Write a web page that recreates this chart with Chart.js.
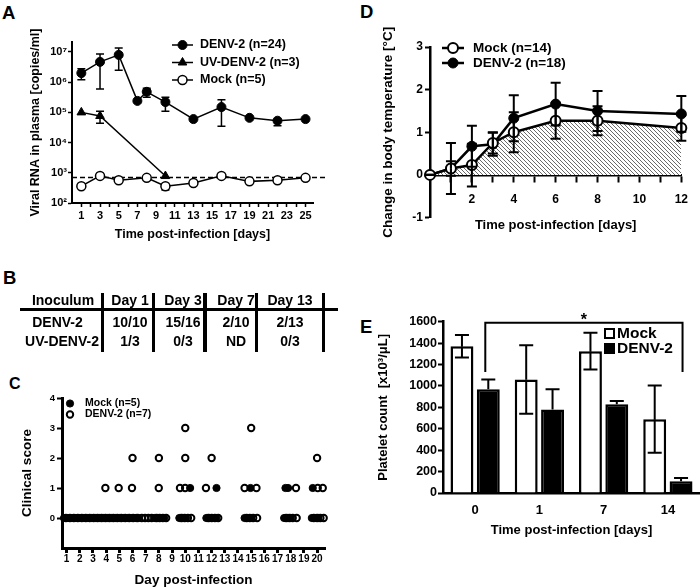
<!DOCTYPE html>
<html>
<head>
<meta charset="utf-8">
<script src="https://cdn.jsdelivr.net/npm/chart.js@4.4.1/dist/chart.umd.min.js"></script>
<style>
  body { margin: 0; background: #fff; }
  #wrap { position: relative; width: 700px; height: 588px; overflow: hidden;
          font-family: "Liberation Sans", Arial, sans-serif; font-weight: bold; color: #000; }
  #wrap canvas { position: absolute; left: 0; top: 0; }
  .panel { position: absolute; line-height: 1; }
  .cell { position: absolute; font-size: 14px; line-height: 1; white-space: nowrap; transform: translate(-50%, -50%); }
  .rule { position: absolute; background: #000; }
</style>
</head>
<body>
<div id="wrap">
  <div class="panel" style="left:2px;top:4px;font-size:18.5px">A</div>
  <div class="panel" style="left:3px;top:269px;font-size:18.5px">B</div>
  <div class="panel" style="left:9px;top:376px;font-size:16px">C</div>
  <div class="panel" style="left:360px;top:2.5px;font-size:18.5px">D</div>
  <div class="panel" style="left:360px;top:317.5px;font-size:18.5px">E</div>
</div>
<script>
// ---------- A: viral RNA in plasma ----------
const aDenvDays = [1, 3, 5, 7, 8, 10, 13, 16, 19, 22, 25];
const aDenv   = [2.0e6, 4.7e6, 8.0e6, 2.4e5, 4.8e5, 2.2e5, 6.0e4, 1.5e5, 6.6e4, 5.3e4, 6.0e4];
const aDenvHi = [2.8e6, 8.6e6, 1.35e7, null, 6.3e5, 3.2e5, null, 2.6e5, null, null, null];
const aDenvLo = [1.2e6, 5.9e5, 2.5e6, null, 3.2e5, 1.1e5, null, 3.5e4, null, 3.6e4, null];
const aUvDays = [1, 3, 10];
const aUv   = [1.0e5, 7.6e4, 7.8e2];
const aUvHi = [null, 1.1e5, null];
const aUvLo = [null, 4.4e4, null];
const aMockDays = [1, 3, 5, 8, 10, 13, 16, 19, 22, 25];
const aMock   = [360, 790, 570, 680, 360, 460, 790, 520, 570, 680];
const aMockLo = [null, null, null, null, 270, null, null, null, null, null];
const aLimit = 700;
const aYTicks = [1e2, 1e3, 1e4, 1e5, 1e6, 1e7];
const aXLabels = [1, 3, 5, 7, 9, 11, 13, 15, 17, 19, 21, 23, 25];

// ---------- B: table ----------
const bHeader = ["Inoculum", "Day 1", "Day 3", "Day 7", "Day 13"];
const bRows = [
  ["DENV-2", "10/10", "15/16", "2/10", "2/13"],
  ["UV-DENV-2", "1/3", "0/3", "ND", "0/3"],
];

// ---------- C: clinical score (x = jittered day) ----------
const cMock0 = [0.8, 1.1, 1.4, 1.7, 2.0, 2.3, 2.6, 2.9, 3.2, 3.5, 3.8, 4.1, 4.4, 4.7, 5.0, 5.3, 5.6, 5.9, 6.2, 6.45,
                7.65, 7.9, 8.15, 8.4, 9.55, 9.8, 10.05, 11.6, 11.85, 12.1, 12.35, 14.5, 14.75, 15.0,
                17.5, 17.75, 18.0, 19.6, 19.85, 20.1];
const cMock1 = [10.37, 12.37, 14.95, 17.6, 17.8, 19.67];
const cDenv0 = [0.95, 1.25, 1.55, 1.85, 2.15, 2.45, 2.75, 3.05, 3.35, 3.65, 3.95, 4.25, 4.55, 4.85, 5.15, 5.45, 5.75,
                6.05, 6.35, 6.7, 6.95, 7.2, 7.45, 7.8, 8.05, 8.3, 8.55, 9.7, 9.95, 10.2, 10.45, 11.75, 12.0, 12.25,
                12.5, 14.65, 14.9, 15.15, 15.45, 17.65, 17.9, 18.15, 18.45, 19.75, 20.0, 20.25, 20.5];
const cDenv1 = [3.94, 4.95, 5.96, 7.99, 9.6, 9.99, 11.57, 14.5, 15.4, 18.4, 20.05, 20.43];
const cDenv2 = [6, 8, 10, 12, 20];
const cDenv3 = [10, 15];
const cDays = [1, 2, 3, 4, 5, 6, 7, 8, 9, 10, 11, 12, 13, 14, 15, 16, 17, 18, 19, 20];
const cScores = [0, 1, 2, 3, 4];

// ---------- D: body temperature ----------
const dDays = [0, 1, 2, 3, 4, 6, 8, 12];
const dMock    = [0, 0.15, 0.23, 0.75, 1.0, 1.27, 1.27, 1.1];
const dMockErr = [0, 0.17, 0.5, 0.25, 0.47, 0.42, 0.34, 0.3];
const dDenv    = [0, 0.15, 0.67, 0.72, 1.33, 1.66, 1.5, 1.43];
const dDenvErr = [0, 0.6, 0.48, 0.27, 0.54, 0.5, 0.47, 0.42];
const dTicks = [1, 2, 3, 4, 5, 6, 7, 8, 9, 10, 11, 12];
const dXLabels = [2, 4, 6, 8, 10, 12];

// ---------- E: platelet count ----------
const eDays = ["0", "1", "7", "14"];
const eMock    = [1370, 1060, 1325, 690];
const eMockErr = [105, 320, 172, 315];
const eDenv    = [970, 780, 830, 110];
const eDenvErr = [90, 190, 30, 30];
const eBracket = { from: 0, to: 3, top: 1590, leg: 1130, text: "*" };

const FONT = '"Liberation Sans", Arial, sans-serif';
Chart.defaults.font.family = FONT;
Chart.defaults.font.weight = "bold";
Chart.defaults.color = "#000";
Chart.defaults.animation = false;
Chart.defaults.plugins.legend.display = false;
Chart.defaults.plugins.tooltip.enabled = false;

const wrap = document.getElementById("wrap");
const sup = { 2: "²", 3: "³", 4: "⁴", 5: "⁵", 6: "⁶", 7: "⁷" };
const pts = (xs, ys) => xs.map((x, i) => ({ x, y: ys[i] }));
const row = (xs, y) => xs.map(x => ({ x, y }));

function newCanvas() {
  const c = document.createElement("canvas");
  c.width = 700; c.height = 588;
  wrap.appendChild(c);
  return c;
}

// error bars drawn from each dataset's errHi / errLo (absolute values)
function errorBars(after, width, cap) {
  const draw = chart => {
    const ctx = chart.ctx, ys = chart.scales.y;
    chart.data.datasets.forEach((ds, di) => {
      const meta = chart.getDatasetMeta(di);
      meta.data.forEach((el, i) => {
        [ds.errHi && ds.errHi[i], ds.errLo && ds.errLo[i]].forEach(v => {
          if (v == null) return;
          const yy = ys.getPixelForValue(v);
          ctx.save();
          ctx.strokeStyle = "#000"; ctx.lineWidth = width;
          ctx.beginPath();
          ctx.moveTo(el.x, el.y); ctx.lineTo(el.x, yy);
          ctx.moveTo(el.x - cap / 2, yy); ctx.lineTo(el.x + cap / 2, yy);
          ctx.stroke();
          ctx.restore();
        });
      });
    });
  };
  return after ? { id: "errA", afterDatasetsDraw: draw } : { id: "errB", beforeDatasetsDraw: draw };
}

function legendRow(ctx, ds, x0, x1, y, tx, size) {
  ctx.save();
  if (x1 > x0) {
    ctx.strokeStyle = "#000"; ctx.lineWidth = ds.borderWidth;
    ctx.beginPath(); ctx.moveTo(x0, y); ctx.lineTo(x1, y); ctx.stroke();
  }
  ctx.fillStyle = ds.pointBackgroundColor; ctx.strokeStyle = "#000"; ctx.lineWidth = ds.pointBorderWidth;
  Chart.helpers.drawPoint(ctx, { pointStyle: ds.pointStyle, radius: ds.pointRadius, borderWidth: ds.pointBorderWidth, rotation: 0 }, (x0 + x1) / 2, y);
  ctx.fillStyle = "#000"; ctx.font = `bold ${size}px ${FONT}`;
  ctx.textAlign = "left"; ctx.textBaseline = "middle";
  ctx.fillText(ds.label, tx, y);
  ctx.restore();
}

const axisStyle = (w, tl, tw) => ({
  grid: { drawOnChartArea: false, tickLength: tl, tickWidth: tw, tickColor: "#000" },
  border: { color: "#000", width: w },
});

/* ---------- A ---------- */
new Chart(newCanvas(), {
  type: "line",
  data: {
    datasets: [
      { label: "DENV-2 (n=24)", data: pts(aDenvDays, aDenv), errHi: aDenvHi, errLo: aDenvLo,
        borderColor: "#000", borderWidth: 1.5, pointStyle: "circle", pointRadius: 4.5,
        pointBackgroundColor: "#000", pointBorderColor: "#000", pointBorderWidth: 1, clip: false },
      { label: "UV-DENV-2 (n=3)", data: pts(aUvDays, aUv), errHi: aUvHi, errLo: aUvLo,
        borderColor: "#000", borderWidth: 1.5, pointStyle: "triangle", pointRadius: 5,
        pointBackgroundColor: "#000", pointBorderColor: "#000", pointBorderWidth: 1, clip: false },
      { label: "Mock (n=5)", data: pts(aMockDays, aMock), errLo: aMockLo,
        borderColor: "#000", borderWidth: 1.5, pointStyle: "circle", pointRadius: 4.5,
        pointBackgroundColor: "#fff", pointBorderColor: "#000", pointBorderWidth: 1.5, clip: false },
    ],
  },
  options: {
    responsive: false,
    layout: { padding: { left: 0, top: 42, right: 387, bottom: 346 } },
    scales: {
      x: {
        type: "linear", min: 0, max: 25.8,
        afterFit: s => { s.height = 39; },
        afterBuildTicks: s => { s.ticks = []; for (let d = 1; d <= 25; d++) s.ticks.push({ value: d }); },
        ticks: { autoSkip: false, maxRotation: 0, padding: 2, font: { size: 11 },
                 callback: v => (aXLabels.includes(v) ? String(v) : "") },
        ...axisStyle(2, 4, 1.5),
        title: { display: true, text: "Time post-infection [days]", font: { size: 12.5 }, padding: 0 },
      },
      y: {
        type: "logarithmic", min: 100, max: 2.14e7,
        afterFit: s => { s.width = 72; },
        afterBuildTicks: s => { s.ticks = aYTicks.map(v => ({ value: v })); },
        ticks: { autoSkip: false, padding: 1, font: { size: 11 },
                 callback: v => "10" + sup[Math.round(Math.log10(v))] },
        ...axisStyle(2, 4, 1.5),
        title: { display: true, text: "Viral RNA in plasma [copies/ml]", font: { size: 12.5 }, padding: { top: 28.5, bottom: 0 } },
      },
    },
  },
  plugins: [
    errorBars(false, 1.5, 8),
    {
      id: "limitA",
      beforeDatasetsDraw(chart) {
        const { ctx, chartArea, scales } = chart;
        const y = scales.y.getPixelForValue(aLimit);
        ctx.save();
        ctx.strokeStyle = "#000"; ctx.lineWidth = 1.5; ctx.setLineDash([5, 3]);
        ctx.beginPath(); ctx.moveTo(chartArea.left, y); ctx.lineTo(325, y); ctx.stroke();
        ctx.restore();
      },
      afterDraw(chart) {
        const ds = chart.data.datasets;
        legendRow(chart.ctx, ds[0], 172, 193, 45, 200, 12.5);
        legendRow(chart.ctx, ds[1], 172, 193, 62.5, 200, 12.5);
        legendRow(chart.ctx, ds[2], 172, 193, 80, 200, 12.5);
      },
    },
  ],
});

/* ---------- B (table) ---------- */
const bColX = [63, 130, 183, 236, 290];
const bRowY = [300, 322, 341];
const bFirstX = [63, 57.5, 62];
[bHeader, ...bRows].forEach((r, ri) => {
  r.forEach((t, ci) => {
    const d = document.createElement("div");
    d.className = "cell";
    d.textContent = t;
    d.style.left = (ci === 0 ? bFirstX[ri] : bColX[ci]) + "px";
    d.style.top = bRowY[ri] + "px";
    wrap.appendChild(d);
  });
});
[[20, 307.5, 318, 3.5], [100.5, 293, 3.5, 59], [151.5, 293, 3.5, 59], [203, 293, 3.5, 59],
 [254.5, 293, 3.5, 59], [321.5, 293, 3.5, 59]].forEach(([l, t, w, h]) => {
  const d = document.createElement("div");
  d.className = "rule";
  Object.assign(d.style, { left: l + "px", top: t + "px", width: w + "px", height: h + "px" });
  wrap.appendChild(d);
});

/* ---------- C ---------- */
new Chart(newCanvas(), {
  type: "scatter",
  data: {
    datasets: [
      { label: "Mock (n=5)", data: [...row(cMock0, 0), ...row(cMock1, 1)],
        pointStyle: "circle", pointRadius: 3.6, pointBackgroundColor: "#000", pointBorderColor: "#000",
        pointBorderWidth: 1, clip: false },
      { label: "DENV-2 (n=7)", data: [...row(cDenv0, 0), ...row(cDenv1, 1), ...row(cDenv2, 2), ...row(cDenv3, 3)],
        pointStyle: "circle", pointRadius: 3.2, pointBackgroundColor: "rgba(0,0,0,0)", pointBorderColor: "#000",
        pointBorderWidth: 2, clip: false },
    ],
  },
  options: {
    responsive: false,
    layout: { padding: { left: 0, top: 398, right: 375, bottom: 0 } },
    scales: {
      x: {
        type: "linear", min: 0.65, max: 20.6,
        afterFit: s => { s.height = 40; },
        afterBuildTicks: s => { s.ticks = cDays.map(v => ({ value: v })); },
        ticks: { autoSkip: false, maxRotation: 0, padding: 0, font: { size: 10 } },
        ...axisStyle(3, 5, 3),
        title: { display: true, text: "Day post-infection", font: { size: 13.5 }, padding: 0 },
      },
      y: {
        min: -1, max: 4,
        afterFit: s => { s.width = 62; },
        afterBuildTicks: s => { s.ticks = cScores.map(v => ({ value: v })); },
        ticks: { padding: 2, font: { size: 9.5 } },
        ...axisStyle(3, 5, 2),
        title: { display: true, text: "Clinical score", font: { size: 13.5 }, padding: { top: 18.9, bottom: 0 } },
      },
    },
  },
  plugins: [{
    id: "legendC",
    afterDraw(chart) {
      const ds = chart.data.datasets;
      legendRow(chart.ctx, ds[0], 70, 70, 403.5, 85, 10.5);
      legendRow(chart.ctx, ds[1], 70, 70, 414.5, 85, 10.5);
    },
  }],
});

/* ---------- D ---------- */
const tile = document.createElement("canvas");
tile.width = 4; tile.height = 4;
const tc = tile.getContext("2d");
tc.fillStyle = "#fff"; tc.fillRect(0, 0, 4, 4);
tc.strokeStyle = "#6a6a6a"; tc.lineWidth = 1;
tc.beginPath(); tc.moveTo(0, 0); tc.lineTo(4, 4); tc.stroke();
const hatch = tc.createPattern(tile, "repeat");

new Chart(newCanvas(), {
  type: "line",
  data: {
    datasets: [
      { label: "Mock (n=14)", data: pts(dDays, dMock),
        errHi: dMock.map((v, i) => v + dMockErr[i]), errLo: dMock.map((v, i) => v - dMockErr[i]),
        fill: "origin", backgroundColor: hatch,
        borderColor: "#000", borderWidth: 2.5, pointStyle: "circle", pointRadius: 5,
        pointBackgroundColor: "#fff", pointBorderColor: "#000", pointBorderWidth: 2, clip: false },
      { label: "DENV-2 (n=18)", data: pts(dDays, dDenv),
        errHi: dDenv.map((v, i) => v + dDenvErr[i]), errLo: dDenv.map((v, i) => v - dDenvErr[i]),
        fill: false,
        borderColor: "#000", borderWidth: 2.5, pointStyle: "circle", pointRadius: 5,
        pointBackgroundColor: "#000", pointBorderColor: "#000", pointBorderWidth: 1, clip: false },
    ],
  },
  options: {
    responsive: false,
    layout: { padding: { left: 360, top: 47, right: 13, bottom: 370.5 } },
    plugins: { filler: { drawTime: "beforeDatasetsDraw" } },
    scales: {
      x: {
        type: "linear", min: 0, max: 12, position: { y: 0 },
        afterFit: s => { s.height = 58; },
        afterBuildTicks: s => { s.ticks = dTicks.map(v => ({ value: v })); },
        ticks: { autoSkip: false, maxRotation: 0, padding: 12, font: { size: 12 },
                 callback: v => (dXLabels.includes(v) ? String(v) : "") },
        ...axisStyle(2.5, 6, 2),
        title: { display: true, text: "Time post-infection [days]", font: { size: 13 }, padding: 0 },
      },
      y: {
        min: -1, max: 3,
        afterFit: s => { s.width = 70; },
        ticks: { stepSize: 1, padding: 2, font: { size: 12 } },
        ...axisStyle(2.5, 5, 2),
        title: { display: true, text: "Change in body temperature [°C]", font: { size: 13.5 }, padding: { top: 20, bottom: 0 } },
      },
    },
  },
  plugins: [
    errorBars(true, 2, 10),
    {
      id: "legendD",
      afterDraw(chart) {
        const ds = chart.data.datasets;
        legendRow(chart.ctx, ds[0], 442, 464, 48, 473, 13.5);
        legendRow(chart.ctx, ds[1], 442, 464, 63, 473, 13.5);
      },
    },
  ],
});

/* ---------- E ---------- */
new Chart(newCanvas(), {
  type: "bar",
  data: {
    labels: eDays,
    datasets: [
      { label: "Mock", data: eMock,
        errHi: eMock.map((v, i) => v + eMockErr[i]), errLo: eMock.map((v, i) => v - eMockErr[i]),
        backgroundColor: "#fff", borderColor: "#000", borderWidth: 2.5,
        barPercentage: 0.87, categoryPercentage: 0.82 },
      { label: "DENV-2", data: eDenv,
        errHi: eDenv.map((v, i) => v + eDenvErr[i]),
        backgroundColor: "#000", borderColor: "#000", borderWidth: 2.5,
        barPercentage: 0.87, categoryPercentage: 0.82 },
    ],
  },
  options: {
    responsive: false,
    layout: { padding: { left: 360, top: 321.7, right: 0, bottom: 50 } },
    scales: {
      x: {
        afterFit: s => { s.height = 45; },
        grid: { display: false, drawTicks: false },
        border: { color: "#000", width: 2.5 },
        ticks: { padding: 10, font: { size: 13 } },
        title: { display: true, text: "Time post-infection [days]", font: { size: 13 }, padding: 0 },
      },
      y: {
        min: 0, max: 1600,
        afterFit: s => { s.width = 83; },
        ticks: { stepSize: 200, padding: 1, font: { size: 12.5 }, callback: v => String(v) },
        ...axisStyle(2.5, 5, 2),
        title: { display: true, text: "Platelet count  [x10³/μL]", font: { size: 13 }, padding: { top: 15.2, bottom: 0 } },
      },
    },
  },
  plugins: [
    errorBars(true, 2, 14),
    {
      id: "extrasE",
      afterDraw(chart) {
        const { ctx, scales } = chart;
        const denv = chart.getDatasetMeta(1).data;
        const x0 = denv[eBracket.from].x - 3, x1 = denv[eBracket.to].x + 1.5;
        const yT = scales.y.getPixelForValue(eBracket.top), yB = scales.y.getPixelForValue(eBracket.leg);
        ctx.save();
        ctx.strokeStyle = "#000"; ctx.lineWidth = 2;
        ctx.beginPath();
        ctx.moveTo(x0, yB); ctx.lineTo(x0, yT); ctx.lineTo(x1, yT); ctx.lineTo(x1, yB);
        ctx.stroke();
        ctx.fillStyle = "#000"; ctx.font = `bold 16px ${FONT}`;
        ctx.textAlign = "center"; ctx.textBaseline = "alphabetic";
        ctx.fillText(eBracket.text, (x0 + x1) / 2, yT + 2.5);
        // legend
        const ds = chart.data.datasets;
        [[ds[0], 329], [ds[1], 344]].forEach(([d, y]) => {
          ctx.fillStyle = d.backgroundColor; ctx.lineWidth = 2;
          ctx.fillRect(605, y, 9, 9); ctx.strokeRect(605, y, 9, 9);
          ctx.fillStyle = "#000"; ctx.font = `bold 15.5px ${FONT}`;
          ctx.textAlign = "left"; ctx.textBaseline = "middle";
          ctx.fillText(d.label, 617, y + 4.5);
        });
        ctx.restore();
      },
    },
  ],
});
</script>
</body>
</html>
